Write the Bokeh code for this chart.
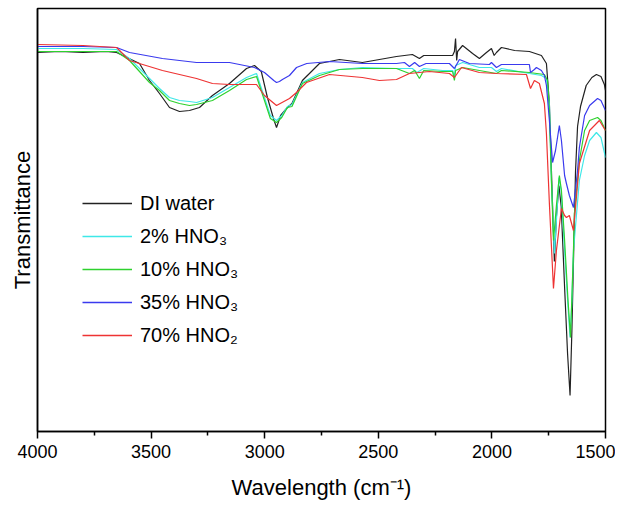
from bokeh.plotting import figure
from bokeh.models import Range1d, FixedTicker, Legend, LegendItem
from bokeh.embed import file_html
from bokeh.resources import INLINE

# Wavenumber (cm-1) and transmittance (a.u.)
di_wn = [4000, 3900, 3800, 3700, 3652, 3551, 3507, 3463, 3419, 3375, 3331, 3287, 3230, 3155, 3080, 3045, 3015, 2988, 2960, 2948, 2930, 2900, 2880, 2834, 2759, 2671, 2570, 2420, 2350, 2319, 2300, 2217, 2173, 2165, 2160, 2155, 2151, 2129, 2085, 2055, 2024, 2002, 1990, 1980, 1958, 1900, 1835, 1782, 1760, 1747, 1738, 1725, 1716, 1705, 1695, 1680, 1667, 1656, 1648, 1641, 1632, 1623, 1610, 1585, 1560, 1540, 1520, 1505, 1500]
di_t = [379, 380, 379, 380, 379, 368, 351, 338, 324, 320, 321, 324, 336, 348, 363, 366, 360, 334, 312, 304, 316, 324, 328, 351, 368, 372, 369, 375, 377, 373, 376, 376, 376, 380, 393, 371, 380, 386, 378, 373, 379, 383, 376, 379, 384, 381, 380, 376, 368, 328, 261, 170, 215, 246, 225, 144, 78, 36, 100, 170, 260, 305, 325, 346, 354, 357, 355, 347, 341]

h2_wn = [4000, 3800, 3652, 3595, 3507, 3463, 3419, 3375, 3331, 3300, 3230, 3155, 3080, 3036, 3001, 2975, 2948, 2925, 2900, 2880, 2834, 2759, 2671, 2570, 2420, 2350, 2330, 2300, 2217, 2173, 2165, 2160, 2129, 2055, 2002, 1980, 1958, 1835, 1782, 1760, 1747, 1738, 1725, 1716, 1705, 1695, 1680, 1665, 1656, 1648, 1641, 1615, 1592, 1570, 1540, 1520, 1500]
h2_t = [383, 383, 382, 373, 353, 343, 334, 331, 330, 329, 334, 344, 354, 358, 334, 316, 311, 316, 325, 327, 349, 358, 362, 364, 363, 363, 359, 363, 361, 361, 355, 366, 369, 364, 364, 360, 363, 358, 356, 353, 328, 251, 178, 211, 254, 241, 181, 125, 94, 130, 181, 251, 276, 291, 299, 294, 274]

h10_wn = [4000, 3800, 3652, 3595, 3507, 3463, 3419, 3375, 3331, 3300, 3230, 3155, 3080, 3036, 3001, 2975, 2948, 2925, 2900, 2880, 2834, 2759, 2671, 2570, 2420, 2363, 2340, 2319, 2300, 2217, 2173, 2165, 2160, 2129, 2055, 1980, 1958, 1835, 1769, 1755, 1747, 1738, 1729, 1716, 1703, 1694, 1680, 1665, 1654, 1641, 1637, 1615, 1592, 1570, 1535, 1520, 1500]
h10_t = [380, 380, 380, 371, 349, 341, 331, 328, 326, 327, 331, 341, 352, 355, 331, 313, 309, 314, 324, 325, 348, 356, 362, 363, 363, 358, 361, 353, 361, 360, 360, 351, 361, 364, 361, 358, 361, 359, 357, 351, 321, 251, 191, 226, 256, 241, 191, 131, 94, 181, 218, 271, 301, 311, 314, 311, 301]

h35_wn = [4000, 3800, 3652, 3595, 3450, 3300, 3155, 3045, 3001, 2960, 2948, 2935, 2922, 2891, 2860, 2815, 2715, 2570, 2420, 2385, 2363, 2340, 2319, 2290, 2187, 2165, 2143, 2099, 2011, 2002, 1980, 1958, 1835, 1830, 1813, 1804, 1782, 1769, 1760, 1747, 1733, 1720, 1703, 1694, 1680, 1672, 1659, 1641, 1623, 1615, 1592, 1570, 1535, 1520, 1500]
h35_t = [385, 385, 384, 379, 373, 369, 369, 364, 359, 351, 349, 350, 352, 356, 364, 368, 370, 368, 368, 369, 365, 369, 365, 368, 368, 363, 372, 368, 367, 369, 364, 367, 367, 359, 362, 364, 361, 356, 346, 311, 269, 281, 306, 291, 256, 248, 236, 224, 261, 284, 316, 326, 333, 331, 321]

h70_wn = [4000, 3800, 3652, 3595, 3450, 3300, 3230, 3155, 3036, 3001, 2948, 2891, 2860, 2816, 2715, 2570, 2495, 2420, 2363, 2275, 2187, 2165, 2134, 2055, 1980, 1848, 1830, 1813, 1791, 1769, 1760, 1747, 1729, 1716, 1694, 1680, 1672, 1659, 1641, 1615, 1570, 1527, 1500]
h70_t = [387, 386, 384, 371, 361, 353, 348, 347, 347, 336, 326, 333, 339, 349, 357, 354, 351, 352, 358, 360, 358, 354, 364, 359, 358, 357, 343, 351, 348, 328, 298, 228, 143, 181, 223, 216, 214, 216, 201, 268, 301, 311, 301]

labels = ["DI water", "2% HNO\u2083", "10% HNO\u2083", "35% HNO\u2083", "70% HNO\u2082"]
colors = ["#222222", "#3ee8e8", "#2ed12e", "#3a3aee", "#ee3333"]
x_ticks = [4000, 3500, 3000, 2500, 2000, 1500]
x_minor = [3750, 3250, 2750, 2250, 1750]

FONT = "Liberation Sans"
NAN = float("nan")

p = figure(width=615, height=510, output_backend="svg", toolbar_location=None,
           x_range=Range1d(4000, 1500), y_range=Range1d(0, 423),
           min_border_left=37, min_border_right=10, min_border_top=8, min_border_bottom=79)
p.title.visible = False
p.xgrid.visible = False
p.ygrid.visible = False
p.outline_line_color = "black"
p.outline_line_width = 1.5
p.background_fill_color = "white"

series = [(di_wn, di_t), (h2_wn, h2_t), (h10_wn, h10_t), (h35_wn, h35_t), (h70_wn, h70_t)]
for (xs, ys), col in zip(series, colors):
    p.line(xs, ys, line_color=col, line_width=1.2)

# legend swatches: invisible (NaN) proxy renderers in the same colours
items = []
for lab, col in zip(labels, colors):
    proxy = p.line(x=[NAN, NAN], y=[NAN, NAN], line_color=col, line_width=1.4)
    items.append(LegendItem(label=lab, renderers=[proxy]))

xa = p.xaxis[0]
xa.ticker = FixedTicker(ticks=x_ticks, minor_ticks=x_minor)
xa.axis_line_width = 1.5
xa.axis_line_color = "black"
xa.major_tick_out = 7
xa.major_tick_in = 0
xa.minor_tick_out = 4
xa.minor_tick_in = 0
xa.major_tick_line_width = 1.5
xa.minor_tick_line_width = 1.5
xa.major_label_text_font = FONT
xa.major_label_text_font_size = "18px"
xa.major_label_text_color = "black"
xa.major_label_standoff = 6
xa.axis_label = "Wavelength (cm\u207b\u00b9)"
xa.axis_label_text_font = FONT
xa.axis_label_text_font_size = "22px"
xa.axis_label_text_font_style = "normal"
xa.axis_label_text_color = "black"
xa.axis_label_standoff = 14

ya = p.yaxis[0]
ya.ticker = FixedTicker(ticks=[])
ya.major_tick_line_color = None
ya.minor_tick_line_color = None
ya.axis_line_width = 1.5
ya.axis_line_color = "black"
ya.axis_label = "Transmittance"
ya.axis_label_text_font = FONT
ya.axis_label_text_font_size = "22px"
ya.axis_label_text_font_style = "normal"
ya.axis_label_text_color = "black"
ya.axis_label_standoff = 3

lg = Legend(items=items, location=(45, 83))
lg.border_line_color = None
lg.background_fill_alpha = 0
lg.label_text_font = FONT
lg.label_text_font_size = "20px"
lg.label_text_color = "black"
lg.glyph_width = 50
lg.glyph_height = 26
lg.label_height = 26
lg.label_standoff = 8
lg.spacing = 7
lg.padding = 10
p.add_layout(lg)

open("out.html", "w").write(file_html(p, INLINE))
